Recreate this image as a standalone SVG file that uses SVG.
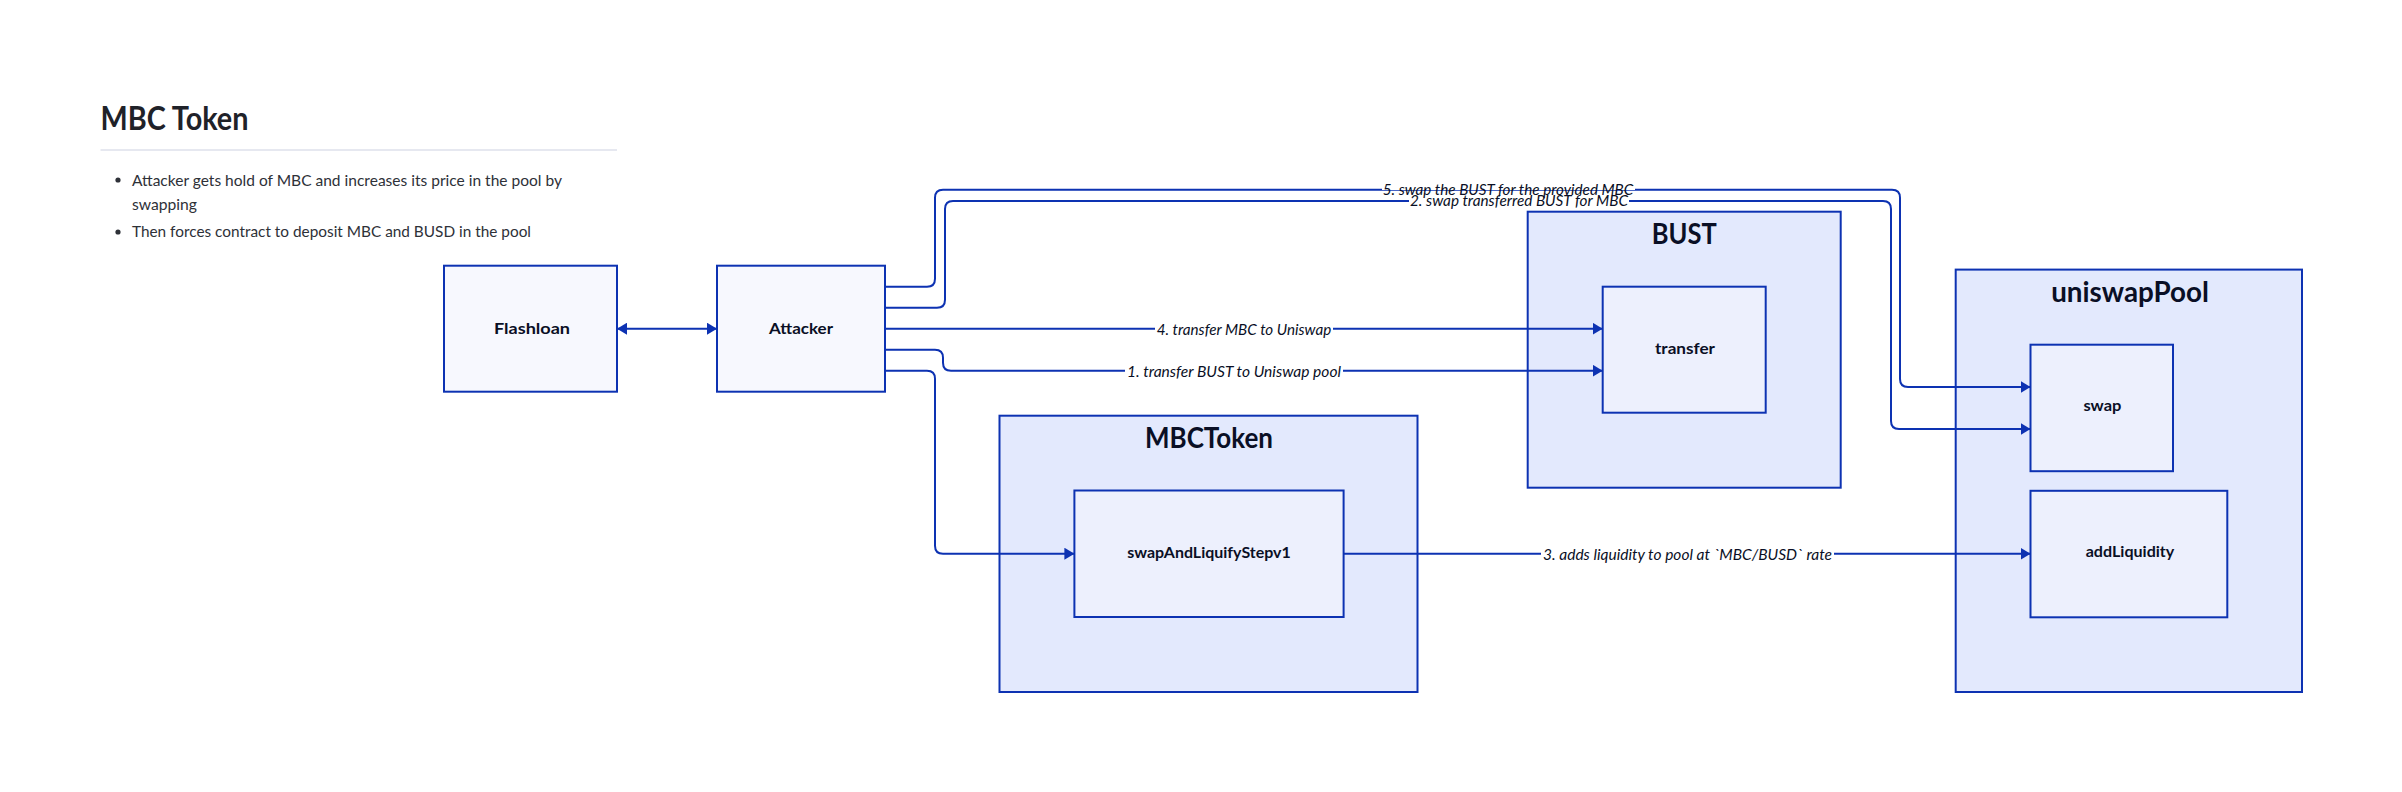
<svg xmlns="http://www.w3.org/2000/svg" width="2402" height="792" viewBox="0 0 2402 792">
<style>
.ff{font-family:"Lato","Noto Sans","Liberation Sans",sans-serif}
.box{stroke:#0D32B2;stroke-width:2}
.outer{fill:#F7F8FE}
.cont{fill:#E3E9FD}
.inner{fill:#EDF0FD}
.nl{font-family:"Lato","Noto Sans",sans-serif;font-weight:bold;font-size:16px;fill:#0A0F25;text-anchor:middle}
.cl{font-family:"Lato","Noto Sans",sans-serif;font-weight:bold;font-size:28px;fill:#0A0F25;text-anchor:middle}
.el{font-family:"Lato","Noto Sans",sans-serif;font-style:italic;font-size:16px;fill:#0A0F25;text-anchor:middle}
.md{font-family:"Lato","Noto Sans",sans-serif;font-size:16px;fill:#2E3138}
.edge{fill:none;stroke:#0D32B2;stroke-width:2}
.lbg{fill:#FFFFFF}
</style>
<defs>
<marker id="arr" viewBox="0 0 10 12" refX="10" refY="6" markerUnits="userSpaceOnUse" markerWidth="10" markerHeight="12" orient="auto-start-reverse">
<path d="M0,0 L10,6 L0,12 z" fill="#0D32B2"/>
</marker>
</defs>
<rect width="2402" height="792" fill="#FFFFFF"/>

<g id="markdown">
<text class="ff" x="100.5" y="130" font-size="32" font-weight="bold" fill="#1F2229" textLength="148" lengthAdjust="spacingAndGlyphs">MBC Token</text>
<line x1="100.5" y1="150" x2="617" y2="150" stroke="#DEE1EB" stroke-width="1.5"/>
<circle cx="118" cy="180" r="2.6" fill="#2E3138"/>
<text class="md" x="132" y="185.5" textLength="430" lengthAdjust="spacingAndGlyphs">Attacker gets hold of MBC and increases its price in the pool by</text>
<text class="md" x="132" y="209.5" textLength="65" lengthAdjust="spacingAndGlyphs">swapping</text>
<circle cx="118" cy="232" r="2.6" fill="#2E3138"/>
<text class="md" x="132" y="237" textLength="399" lengthAdjust="spacingAndGlyphs">Then forces contract to deposit MBC and BUSD in the pool</text>
</g>

<g id="Flashloan">
<rect class="box outer" x="444" y="265.7" width="173" height="126"/>
<text class="nl" x="532" y="333.5" textLength="76" lengthAdjust="spacingAndGlyphs">Flashloan</text>
</g>
<g id="Attacker">
<rect class="box outer" x="717" y="265.7" width="168" height="126"/>
<text class="nl" x="801" y="333.5" textLength="64" lengthAdjust="spacingAndGlyphs">Attacker</text>
</g>
<g id="BUST">
<rect class="box cont" x="1527.7" y="211.7" width="313" height="276"/>
<text class="cl" x="1684.2" y="244" textLength="65" lengthAdjust="spacingAndGlyphs">BUST</text>
</g>
<g id="BUST.transfer">
<rect class="box inner" x="1602.7" y="286.7" width="163" height="126"/>
<text class="nl" x="1685" y="353.5" textLength="60" lengthAdjust="spacingAndGlyphs">transfer</text>
</g>
<g id="MBCToken">
<rect class="box cont" x="999.5" y="415.7" width="418" height="276.3"/>
<text class="cl" x="1209" y="448.3" textLength="128" lengthAdjust="spacingAndGlyphs">MBCToken</text>
</g>
<g id="MBCToken.swapAndLiquifyStepv1">
<rect class="box inner" x="1074.4" y="490.5" width="269.2" height="126.5"/>
<text class="nl" x="1209" y="557.5" textLength="163.6" lengthAdjust="spacingAndGlyphs">swapAndLiquifyStepv1</text>
</g>
<g id="uniswapPool">
<rect class="box cont" x="1955.7" y="269.6" width="346.3" height="422.4"/>
<text class="cl" x="2130" y="302" textLength="157.7" lengthAdjust="spacingAndGlyphs">uniswapPool</text>
</g>
<g id="uniswapPool.swap">
<rect class="box inner" x="2030.5" y="344.7" width="142.5" height="126.5"/>
<text class="nl" x="2102.4" y="410.5" textLength="38" lengthAdjust="spacingAndGlyphs">swap</text>
</g>
<g id="uniswapPool.addLiquidity">
<rect class="box inner" x="2030.5" y="490.8" width="196.8" height="126.5"/>
<text class="nl" x="2130" y="557" textLength="88.6" lengthAdjust="spacingAndGlyphs">addLiquidity</text>
</g>

<g id="connectors">
<path class="edge" d="M617,328.7 L717,328.7" marker-start="url(#arr)" marker-end="url(#arr)"/>
<path class="edge" d="M885,286.7 L927,286.7 Q935,286.7 935,278.7 L935,197.7 Q935,189.7 943,189.7 L1892,189.7 Q1900,189.7 1900,197.7 L1900,379 Q1900,387 1908,387 L2030.5,387" marker-end="url(#arr)"/>
<path class="edge" d="M885,307.7 L937,307.7 Q945,307.7 945,299.7 L945,209 Q945,201 953,201 L1883,201 Q1891,201 1891,209 L1891,421 Q1891,429 1899,429 L2030.5,429" marker-end="url(#arr)"/>
<path class="edge" d="M885,328.7 L1602.7,328.7" marker-end="url(#arr)"/>
<path class="edge" d="M885,349.7 L935,349.7 Q943,349.7 943,357.7 L943,362.7 Q943,370.7 951,370.7 L1602.7,370.7" marker-end="url(#arr)"/>
<path class="edge" d="M885,370.7 L927,370.7 Q935,370.7 935,378.7 L935,545.7 Q935,553.7 943,553.7 L1074.4,553.7" marker-end="url(#arr)"/>
<path class="edge" d="M1343.6,553.7 L2030.5,553.7" marker-end="url(#arr)"/>
<rect class="lbg" x="1382" y="182" width="253" height="8"/>
<rect class="lbg" x="1409" y="191" width="220" height="16"/>
<rect class="lbg" x="1155" y="320" width="178" height="18"/>
<rect class="lbg" x="1125" y="362" width="218" height="18"/>
<rect class="lbg" x="1541" y="545" width="293" height="18"/>
<text class="el" x="1508" y="194.5" textLength="250.6" lengthAdjust="spacingAndGlyphs">5. swap the BUST for the provided MBC</text>
<text class="el" x="1519" y="205.5" textLength="218" lengthAdjust="spacingAndGlyphs">2. swap transferred BUST for MBC</text>
<text class="el" x="1244" y="334.5" textLength="174.4" lengthAdjust="spacingAndGlyphs">4. transfer MBC to Uniswap</text>
<text class="el" x="1234" y="376.5" textLength="214" lengthAdjust="spacingAndGlyphs">1. transfer BUST to Uniswap pool</text>
<text class="el" x="1687.5" y="559.5" textLength="289" lengthAdjust="spacingAndGlyphs">3. adds liquidity to pool at `MBC/BUSD` rate</text>
</g>
</svg>
